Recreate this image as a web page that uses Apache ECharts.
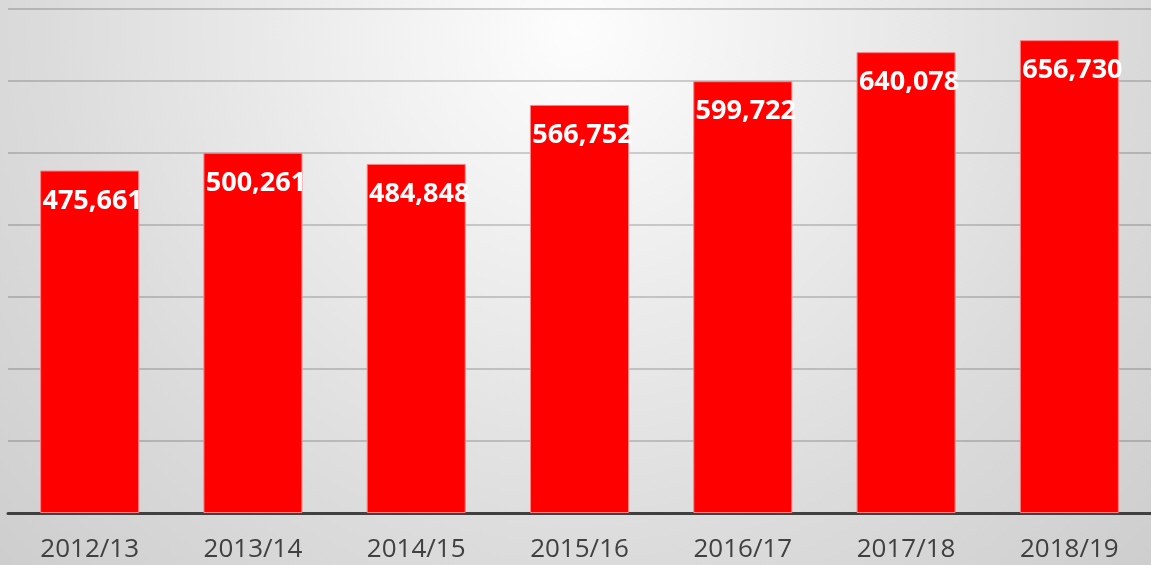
<!DOCTYPE html>
<html>
<head>
<meta charset="utf-8">
<script src="https://cdn.jsdelivr.net/npm/echarts@6/dist/echarts.min.js"></script>
<style>
  html, body { margin: 0; padding: 0; }
  #chart { width: 1151px; height: 565px; }
</style>
</head>
<body>
<div id="chart"></div>
<script>
const years = ['2012/13', '2013/14', '2014/15', '2015/16', '2016/17', '2017/18', '2018/19']
const students = [475661, 500261, 484848, 566752, 599722, 640078, 656730]
const yMax = 700000
const yStep = 100000

const chart = echarts.init(document.getElementById('chart'))

const option = {
  backgroundColor: '#e4e4e4',
  animation: false,
  graphic: [
    {
      type: 'rect',
      z: -10,
      silent: true,
      shape: { x: 0, y: 0, width: 1151, height: 565 },
      style: {
        fill: {
          type: 'radial',
          x: 575,
          y: 30,
          r: 800,
          global: true,
          colorStops: [
            { offset: 0, color: '#fdfdfd' },
            { offset: 0.3, color: '#eeeeee' },
            { offset: 0.65, color: '#dcdcdc' },
            { offset: 1, color: '#cdcdcd' }
          ]
        }
      }
    }
  ],
  grid: {
    left: 8,
    top: 9,
    width: 1148,
    bottom: 52,
    containLabel: false
  },
  xAxis: {
    type: 'category',
    data: years,
    axisTick: { show: false },
    axisLine: { lineStyle: { color: '#404040', width: 3 } },
    axisLabel: {
      color: '#404040',
      fontFamily: 'Open Sans',
      fontSize: 26,
      margin: 24
    }
  },
  yAxis: {
    type: 'value',
    min: 0,
    max: yMax,
    interval: yStep,
    axisLabel: { show: false },
    axisLine: { show: false },
    axisTick: { show: false },
    splitLine: { lineStyle: { color: 'rgba(0,0,0,0.17)', width: 2 } }
  },
  series: [
    {
      type: 'bar',
      data: students,
      barWidth: 99,
      itemStyle: {
        color: '#ff0000',
        borderColor: '#ff8080',
        borderWidth: 1
      },
      label: {
        show: true,
        position: 'insideTop',
        distance: 17,
        offset: [3, 0],
        color: '#ffffff',
        fontFamily: 'Open Sans',
        fontWeight: 'bold',
        fontSize: 27,
        formatter: (p) => p.value.toLocaleString('en-US')
      }
    }
  ]
}

chart.setOption(option)
</script>
</body>
</html>
